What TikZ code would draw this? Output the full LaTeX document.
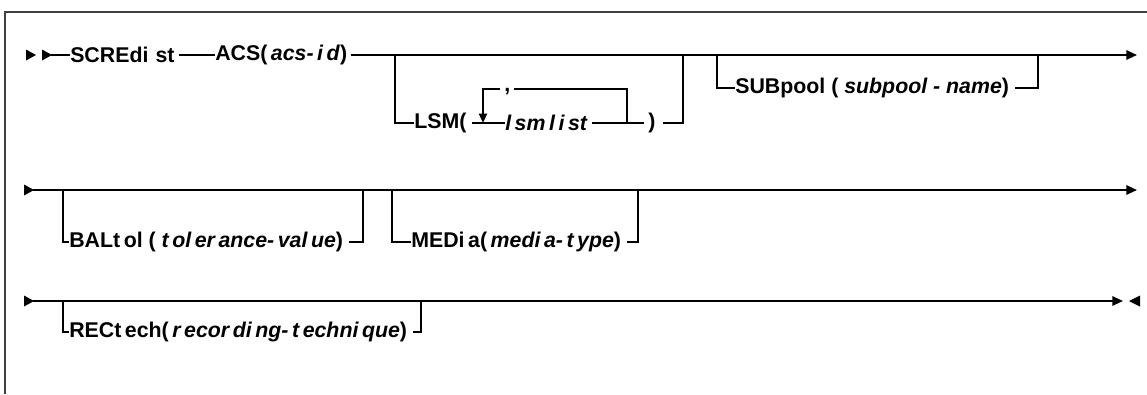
\documentclass[tikz,border=0pt]{standalone}
\usepackage{fontspec}
\setmainfont{Liberation Sans}
\usetikzlibrary{arrows.meta, positioning, calc}
\tikzstyle{rail} = [line width=1.5pt, color=black]
\tikzstyle{railend} = [rail, -{Triangle[length=8pt, width=7pt]}]
\tikzstyle{kw} = [anchor=west, inner sep=0pt, font=\fontsize{16}{18}\selectfont\bfseries]
\tikzstyle{starttip} = [fill=black]

\begin{document}
\begin{tikzpicture}[x=0.75pt, y=-0.75pt]
    \useasboundingbox (0,0) rectangle (1147,394);
    \draw[line width=1.5pt, black!75] (1147,12) -- (5,12) -- (5,394);

    % Row 1
    \fill[starttip] (26,49.5) -- (36,55) -- (26,60.5) -- cycle;
    \fill[starttip] (42,49.5) -- (52,55) -- (42,60.5) -- cycle;
    \coordinate (r1start) at (51,55);
    \node[kw] (scr) at (70,55) {SCREdi\,\,st};
    \node[kw] (acs) at (215,55) {ACS(\,\textit{acs-\,i\,d})};
    \coordinate (r1end) at (1137,55);
    \draw[rail] (r1start) -- (scr);
    \draw[rail] ($(scr.east)+(4,0)$) -- (acs);
    \draw[railend] ($(acs.east)+(4,0)$) -- (r1end);

    % LSM list
    \coordinate (lsmtop) at (395,55);
    \coordinate (lsmend) at (683,55);
    \node[kw] (lsm) at (414,123) {LSM(};
    \node[kw] (lsmlist) at (505,123) {\textit{l\,sm\,l\,i\,st}};
    \node[kw] (rp) at (648,123) {)};
    \node[kw, inner xsep=3pt] (comma) at (500,92) {,};
    \coordinate (loopl) at (483,123);
    \coordinate (loopr) at (627,123);
    \draw[rail] (lsmtop) |- (lsm);
    \draw[rail] ($(lsm.east)+(5,0)$) -- (lsmlist);
    \draw[rail] ($(lsmlist.east)+(4,0)$) -- ($(rp.west)+(-4,0)$);
    \draw[rail] ($(rp.east)+(7,0)$) -| (lsmend);
    \draw[rail] (loopr) |- (comma.east |- 0,89);
    \draw[rail, -{Triangle[length=7pt, width=6pt]}] (comma.west |- 0,89) -| (loopl);

    % SUBpool
    \coordinate (subtop) at (717,55);
    \coordinate (subend) at (1038,55);
    \node[kw] (sub) at (735,88) {SUBpool ( \textit{subpool - name})};
    \draw[rail] (subtop) |- (sub);
    \draw[rail] ($(sub.east)+(6,0)$) -| (subend);

    % Row 2
    \fill[starttip] (24,184.5) -- (34,190) -- (24,195.5) -- cycle;
    \coordinate (r2start) at (33,190);
    \coordinate (r2end) at (1137,190);
    \draw[railend] (r2start) -- (r2end);
    \coordinate (baltop) at (63,190);
    \coordinate (balend) at (363,190);
    \node[kw] (bal) at (69,242) {BALt\,ol ( \textit{t\,ol\,er\,ance-\,val\,ue})};
    \draw[rail] (baltop) |- (bal);
    \draw[rail] ($(bal.east)+(6,0)$) -| (balend);
    \coordinate (medtop) at (392,190);
    \coordinate (medend) at (638,190);
    \node[kw] (med) at (411,242) {MEDi\,a(\,\textit{medi\,a-\,t\,ype})};
    \draw[rail] (medtop) |- (med);
    \draw[rail] ($(med.east)+(6,0)$) -| (medend);

    % Row 3
    \fill[starttip] (24,295.5) -- (34,301) -- (24,306.5) -- cycle;
    \coordinate (r3start) at (33,301);
    \coordinate (r3end) at (1123,301);
    \draw[railend] (r3start) -- (r3end);
    \fill[starttip] (1140,295.5) -- (1129,301) -- (1140,306.5) -- cycle;
    \coordinate (rectop) at (63,301);
    \coordinate (recend) at (421,301);
    \node[kw] (rec) at (69,332) {RECt\,ech(\,\textit{r\,ecor\,di\,ng-\,t\,echni\,que})};
    \draw[rail] (rectop) |- (rec);
    \draw[rail] ($(rec.east)+(6,0)$) -| (recend);
\end{tikzpicture}
\end{document}
